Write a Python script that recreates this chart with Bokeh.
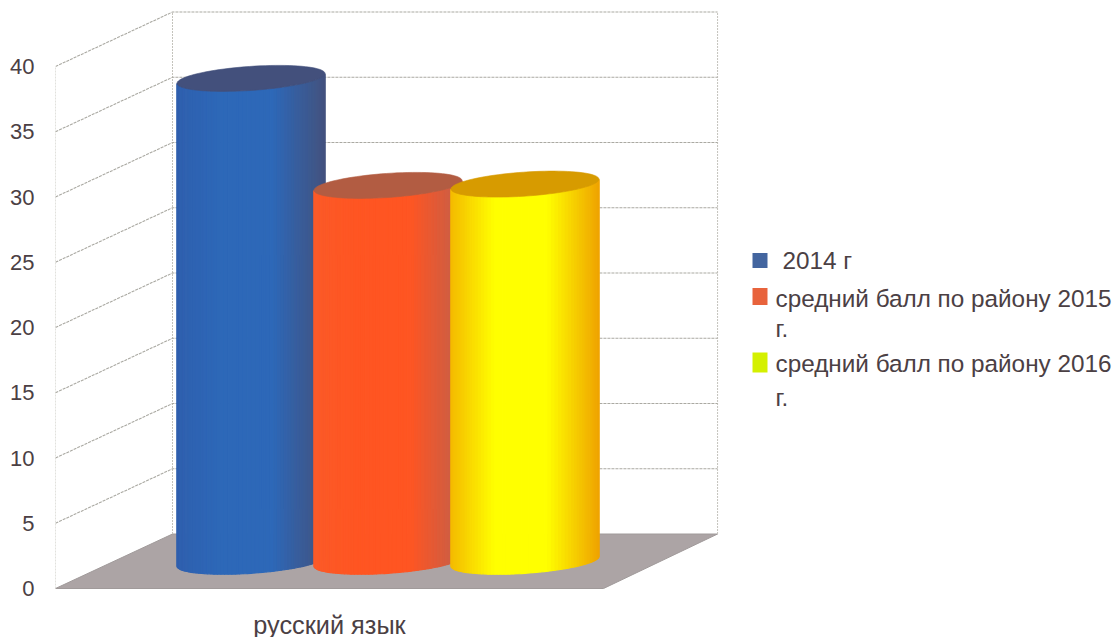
import numpy as np
from bokeh.core.properties import value
from bokeh.embed import file_html
from bokeh.models import FixedTicker, LinearAxis, Range1d
from bokeh.plotting import figure
from bokeh.resources import INLINE

categories = ["русский язык"]
series_names = ["2014 г", "средний балл по району 2015 г.", "средний балл по району 2016 г."]
series_values = [37.0, 28.8, 28.9]
y_ticks = [0, 5, 10, 15, 20, 25, 30, 35, 40]

FONT = "Liberation Sans"
TEXT = "#4b4044"
GRID = "#aaa9a2"
W, H = 1114, 637
LEFT, FRAME_H = 55, 590
PX_X, PX_Y = 548.0, 13.05           # pixels per x unit / per y unit
DX, DV = 117 / PX_X, 54.5 / PX_Y    # shift of the back wall
shade_side = [("#2f5fae", "#2d68b8", "#43527f"),
              ("#fb5a28", "#ff5522", "#c4604a"),
              ("#f4ba00", "#ffff00", "#efa400")]
lid = ["#43507c", "#b25c42", "#d79b00"]
legend_swatch = ["#43659f", "#e8633c", "#d4f000"]

p = figure(frame_width=W - LEFT, frame_height=FRAME_H, output_backend="svg", toolbar_location=None,
           x_range=Range1d(0, (W - LEFT) / PX_X), y_range=Range1d(-2 / PX_Y, (FRAME_H - 2) / PX_Y),
           x_axis_type=None, y_axis_type=None, min_border_left=LEFT, min_border_right=0,
           min_border_top=0, min_border_bottom=0, outline_line_color=None)
p.grid.visible = False


def style_axis(ax, standoff):
    ax.axis_line_color = None
    ax.major_tick_line_color = None
    ax.minor_tick_line_color = None
    ax.major_label_text_font = FONT
    ax.major_label_text_font_size = "22px"
    ax.major_label_text_color = TEXT
    ax.major_label_standoff = standoff


yax = LinearAxis(ticker=FixedTicker(ticks=y_ticks))
style_axis(yax, 15)
p.add_layout(yax, "left")
xax = LinearAxis(ticker=FixedTicker(ticks=[0.5]),
                 major_label_overrides={0.5: categories[0]})
style_axis(xax, 14)
xax.major_label_text_font_size = "25.3px"
p.add_layout(xax, "below")

# floor
p.patch([0, DX, 1 + DX * 0.975, 1], [0, DV, DV, 0], fill_color="#aca4a5", line_color="#a09a9a")

# walls and grid
top = y_ticks[-1]
wall_x0 = [0, DX, 1 + DX * 0.975]
wall_v0 = [0, DV, DV]
wall_v1 = [top, top + DV, top + DV]
p.segment(wall_x0, wall_v0, wall_x0, wall_v1, line_color="#c4c3bc", line_width=1, line_dash="2 1")
for t in y_ticks[1:]:
    p.line([0, DX, 1 + DX * 0.975], [t, t + DV, t + DV], line_color=GRID, line_width=1.1, line_dash="3 1")


def lerp_hex(stops, f):
    rgb = [[int(s[i:i + 2], 16) for i in (1, 3, 5)] for s in stops]
    out = [np.interp(f, [0, .3, .65, 1], [rgb[0][c], rgb[1][c], rgb[1][c], rgb[2][c]]) for c in range(3)]
    return "#%02x%02x%02x" % tuple(int(round(c)) for c in out)


# cylinders
R_U = 68.5 / PX_X
R_D = 13 / 54.5
t0 = np.arctan2(R_D * DX, R_U)
for i, (val, shades) in enumerate(zip(series_values, shade_side)):
    cu = (i + 1) * 0.25 + 0.5 * DX
    cv = 0.5 * DV
    ex = lambda t: cu + R_U * np.cos(t) + R_D * DX * np.sin(t)
    ey = lambda t: R_D * DV * np.sin(t)
    half = np.hypot(R_U, R_D * DX)
    ts = np.linspace(t0 + np.pi, t0 + 2 * np.pi, 61)
    for a, b in zip(ts[:-1], ts[1:]):
        xa, xb = ex(a), ex(b)
        f = ((xa + xb) / 2 - (cu - half)) / (2 * half)
        c = lerp_hex(shades, f)
        p.patch([xa, xb, xb, xa],
                [cv + ey(a), cv + ey(b), cv + val + ey(b), cv + val + ey(a)],
                fill_color=c, line_color=c, line_width=1.2)
    tt = np.linspace(0, 2 * np.pi, 90)
    p.patch(ex(tt), cv + val + ey(tt), fill_color=lid[i], line_color=lid[i], line_width=0.6)


# legend, placed by pixel position
def ux(px):
    return (px - LEFT) / PX_X


def vy(py):
    return (588 - py) / PX_Y


sw_y = [260, 296, 362]
p.rect([ux(759.5)] * 3, [vy(y) for y in sw_y], width=15 / PX_X, height=[15 / PX_Y, 17 / PX_Y, 20 / PX_Y],
       fill_color=legend_swatch, line_color=None)
name0, name1, name2 = series_names
lines = [name0, name1[:-3], name1[-2:], name2[:-3], name2[-2:]]
lx = [782, 775, 775, 775, 775]
ly = [260, 298, 328, 363, 397]
p.text([ux(x) for x in lx], [vy(y) for y in ly], text=lines, text_font=value(FONT),
       text_font_size="24.3px", text_color=TEXT, text_align="left", text_baseline="middle")

open("out.html", "w").write(file_html(p, INLINE))
